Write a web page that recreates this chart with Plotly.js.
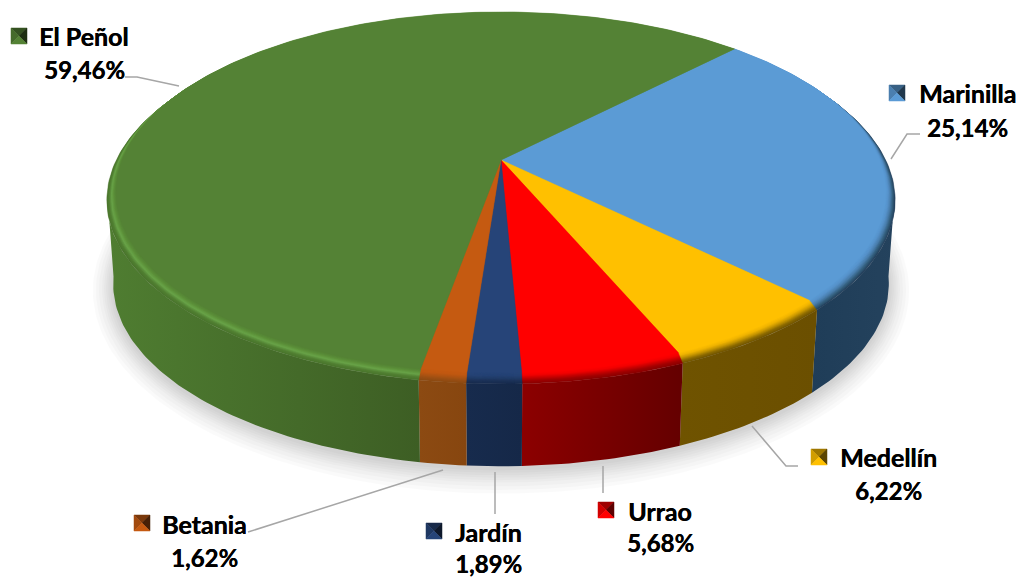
<!DOCTYPE html>
<html>
<head>
<meta charset="utf-8">
<script src="https://cdn.plot.ly/plotly-3.0.1.min.js"></script>
<style>html,body{margin:0;padding:0;background:#fff}#chart{width:1020px;height:577px}</style>
</head>
<body>
<div id="chart"></div>
<script>
// ---- data, clockwise from the first slice boundary ----
var categories = ['Marinilla', 'Medellín', 'Urrao', 'Jardín', 'Betania', 'El Peñol'];
var shares = [25.14, 6.22, 5.68, 1.89, 1.62, 59.46];

// ---- styles ----
var baseColors = ['#5b9bd5', '#ffc000', '#ff0000', '#264478', '#c55a11', '#548235'];
var rimRamps = [
  ['#5b9bd5', '#5692ca', '#4a7fae', '#35607f', '#24415c'],
  ['#ffc000', '#f0b400', '#c79600', '#8f6d00', '#6f5300'],
  ['#ff0000', '#f20000', '#c80000', '#a00000', '#8a0000'],
  ['#264478', '#254375', '#213c68', '#1c3258', '#172b4d'],
  ['#c55a11', '#c05811', '#ae5412', '#9a4f14', '#8c4a12'],
  ['#548235', '#5c9039', '#68a348', '#528033', '#4a752d']
];
var wallRamps = [
  ['#1f3d58', '#24425d'],
  ['#6f5300', '#6b4f00'],
  ['#8c0000', '#640000'],
  ['#172b4d', '#152848'],
  ['#8c4a12', '#87460f'],
  ['#4f7d31', '#3d5e24']
];
// ---- layout of the label blocks: key square, name centre, percent centre, leader line ----
var keyCentres = [[897, 93], [819, 457], [606, 510], [434, 531], [142, 523], [19, 36]];
var nameCentres = [[967, 93], [888, 457], [660, 511], [488, 532], [204, 524], [84, 36]];
var pctCentres = [[967, 127], [888, 490], [660, 542], [488, 563], [204, 557], [84, 69]];
var leadersX = [[920, 907, 891], [798, 786, 752], [603, 603], [495, 495], [248, 443], [125, 137, 179]];
var leadersY = [[134, 134, 159], [466, 466, 426], [466, 493], [472, 514], [532, 470], [77, 77, 86]];

// ---- projection of the tilted disc ----
var startDeg = 44.1, persp = 0.18, apexX = 501, apexY = 160;
var flatDisc = {rx: 378.7, ry: 174.7, dy: 0};
var rimDisc = {rx: 387.7, ry: 178, dy: 7};
var baseDisc = {rx: 381.5, ry: 176.5, dy: 91};
var wallVisibleFrom = 98, wallVisibleTo = 262;

function project(d, deg) {
  var a = deg * Math.PI / 180, u = Math.sin(a), v = -Math.cos(a), w = 1 - persp * v;
  return [apexX + d.rx * u / w, apexY + d.dy + d.ry * v / w];
}
function mixDisc(a, b, t) {
  return {rx: a.rx + (b.rx - a.rx) * t, ry: a.ry + (b.ry - a.ry) * t, dy: a.dy + (b.dy - a.dy) * t};
}
function arc(d, from, to) {
  var pts = [], n = Math.max(2, Math.ceil(Math.abs(to - from))), i;
  for (i = 0; i <= n; i++) pts.push(project(d, from + (to - from) * i / n));
  return pts;
}
function xs(p) { return p.map(function (q) { return q[0]; }); }
function ys(p) { return p.map(function (q) { return q[1]; }); }
function poly(p, color, extra) {
  var t = {x: xs(p), y: ys(p), mode: 'lines', fill: 'toself', fillcolor: color,
    line: {width: 0.5, color: color}, hoverinfo: 'skip', showlegend: false};
  for (var k in extra) t[k] = extra[k];
  return t;
}
function hexMix(hex, f) {
  var n = parseInt(hex.slice(1), 16);
  return 'rgb(' + [(n >> 16) & 255, (n >> 8) & 255, n & 255].map(function (c) { return Math.round(c * f); }).join(',') + ')';
}

var total = shares.reduce(function (a, b) { return a + b; }, 0);
var bounds = [startDeg];
shares.forEach(function (s, i) { bounds.push(bounds[i] + s / total * 360); });

var traces = [];
// soft shadow under the disc
var shadowSteps = [20, 17, 14, 11, 9, 7, 5, 3, 1];
shadowSteps.forEach(function (g) {
  var d = {rx: baseDisc.rx + g, ry: baseDisc.ry + g, dy: baseDisc.dy + 3};
  traces.push({x: xs(arc(d, 0, 360)), y: ys(arc(d, 0, 360)), mode: 'lines', fill: 'toself',
    fillcolor: 'rgba(0,0,0,0.02)', line: {width: 0}, hoverinfo: 'skip', showlegend: false});
});
// walls: the part of each slice's side that faces the viewer
shares.forEach(function (s, i) {
  var from = Math.max(bounds[i], wallVisibleFrom), to = Math.min(bounds[i + 1], wallVisibleTo);
  var all = arc(rimDisc, from, to).concat(arc(baseDisc, to, from));
  var xv = xs(all), x0 = Math.min.apply(null, xv), x1 = Math.max.apply(null, xv);
  var c0 = wallRamps[i][0], c1 = wallRamps[i][1];
  traces.push({x: xv, y: ys(all), mode: 'lines', fill: 'toself', fillcolor: c0, line: {width: 0},
    hoverinfo: 'skip', showlegend: false,
    fillgradient: {type: 'horizontal', start: x0, stop: x1, colorscale: [[0, c0], [1, c1]]}});
});
// bevelled rim, painted from the outside in
var rimSteps = 12;
for (var j = rimSteps; j >= 1; j--) {
  var t = j / rimSteps, d = mixDisc(flatDisc, rimDisc, t);
  shares.forEach(function (s, i) {
    var ramp = rimRamps[i], p = t * (ramp.length - 1), k = Math.min(Math.floor(p), ramp.length - 2), f = p - k;
    var a = parseInt(ramp[k].slice(1), 16), b = parseInt(ramp[k + 1].slice(1), 16);
    var col = 'rgb(' + [16, 8, 0].map(function (sh) {
      var ca = (a >> sh) & 255, cb = (b >> sh) & 255;
      return Math.round(ca + (cb - ca) * f);
    }).join(',') + ')';
    var ap = [[apexX, apexY + d.dy]];
    traces.push(poly(ap.concat(arc(d, bounds[i], bounds[i + 1])).concat(ap), col));
  });
}
// flat top
shares.forEach(function (s, i) {
  var ap = [[apexX, apexY]];
  traces.push(poly(ap.concat(arc(flatDisc, bounds[i], bounds[i + 1])).concat(ap), baseColors[i]));
});
// leader lines
leadersX.forEach(function (lx, i) {
  traces.push({x: lx, y: leadersY[i], mode: 'lines', line: {color: '#a6a6a6', width: 1.5},
    hoverinfo: 'skip', showlegend: false});
});
// bevelled legend keys
var keyHalf = 8, keyShades = [0.62, 0.82, 0.36, 1.0];
keyCentres.forEach(function (c, i) {
  var h = keyHalf, cx = c[0], cy = c[1];
  var corners = [[cx - h, cy - h], [cx + h, cy - h], [cx + h, cy + h], [cx - h, cy + h]];
  var faces = [[0, 1], [3, 0], [1, 2], [2, 3]];
  faces.forEach(function (f, q) {
    traces.push(poly([corners[f[0]], corners[f[1]], [cx, cy], corners[f[0]]], hexMix(baseColors[i], keyShades[q])));
  });
});

var annotations = [];
function label(text, at, size) {
  annotations.push({text: '<b>' + text + '</b>', x: at[0], y: at[1], xref: 'x', yref: 'y', showarrow: false,
    xanchor: 'center', yanchor: 'middle',
    font: {family: 'Lato, Carlito, sans-serif', size: size, color: '#000', shadow: '0.4px 0 0 #000'}});
}
categories.forEach(function (name, i) {
  label(name, nameCentres[i], 25);
  label(shares[i].toFixed(2).replace('.', ',') + '%', pctCentres[i], 24);
});

Plotly.newPlot('chart', traces, {
  width: 1020, height: 577,
  margin: {l: 0, r: 0, t: 0, b: 0},
  paper_bgcolor: '#fff', plot_bgcolor: '#fff',
  xaxis: {range: [0, 1020], visible: false, fixedrange: true},
  yaxis: {range: [577, 0], visible: false, fixedrange: true},
  annotations: annotations, showlegend: false
}, {displayModeBar: false, staticPlot: true});
</script>
</body>
</html>
